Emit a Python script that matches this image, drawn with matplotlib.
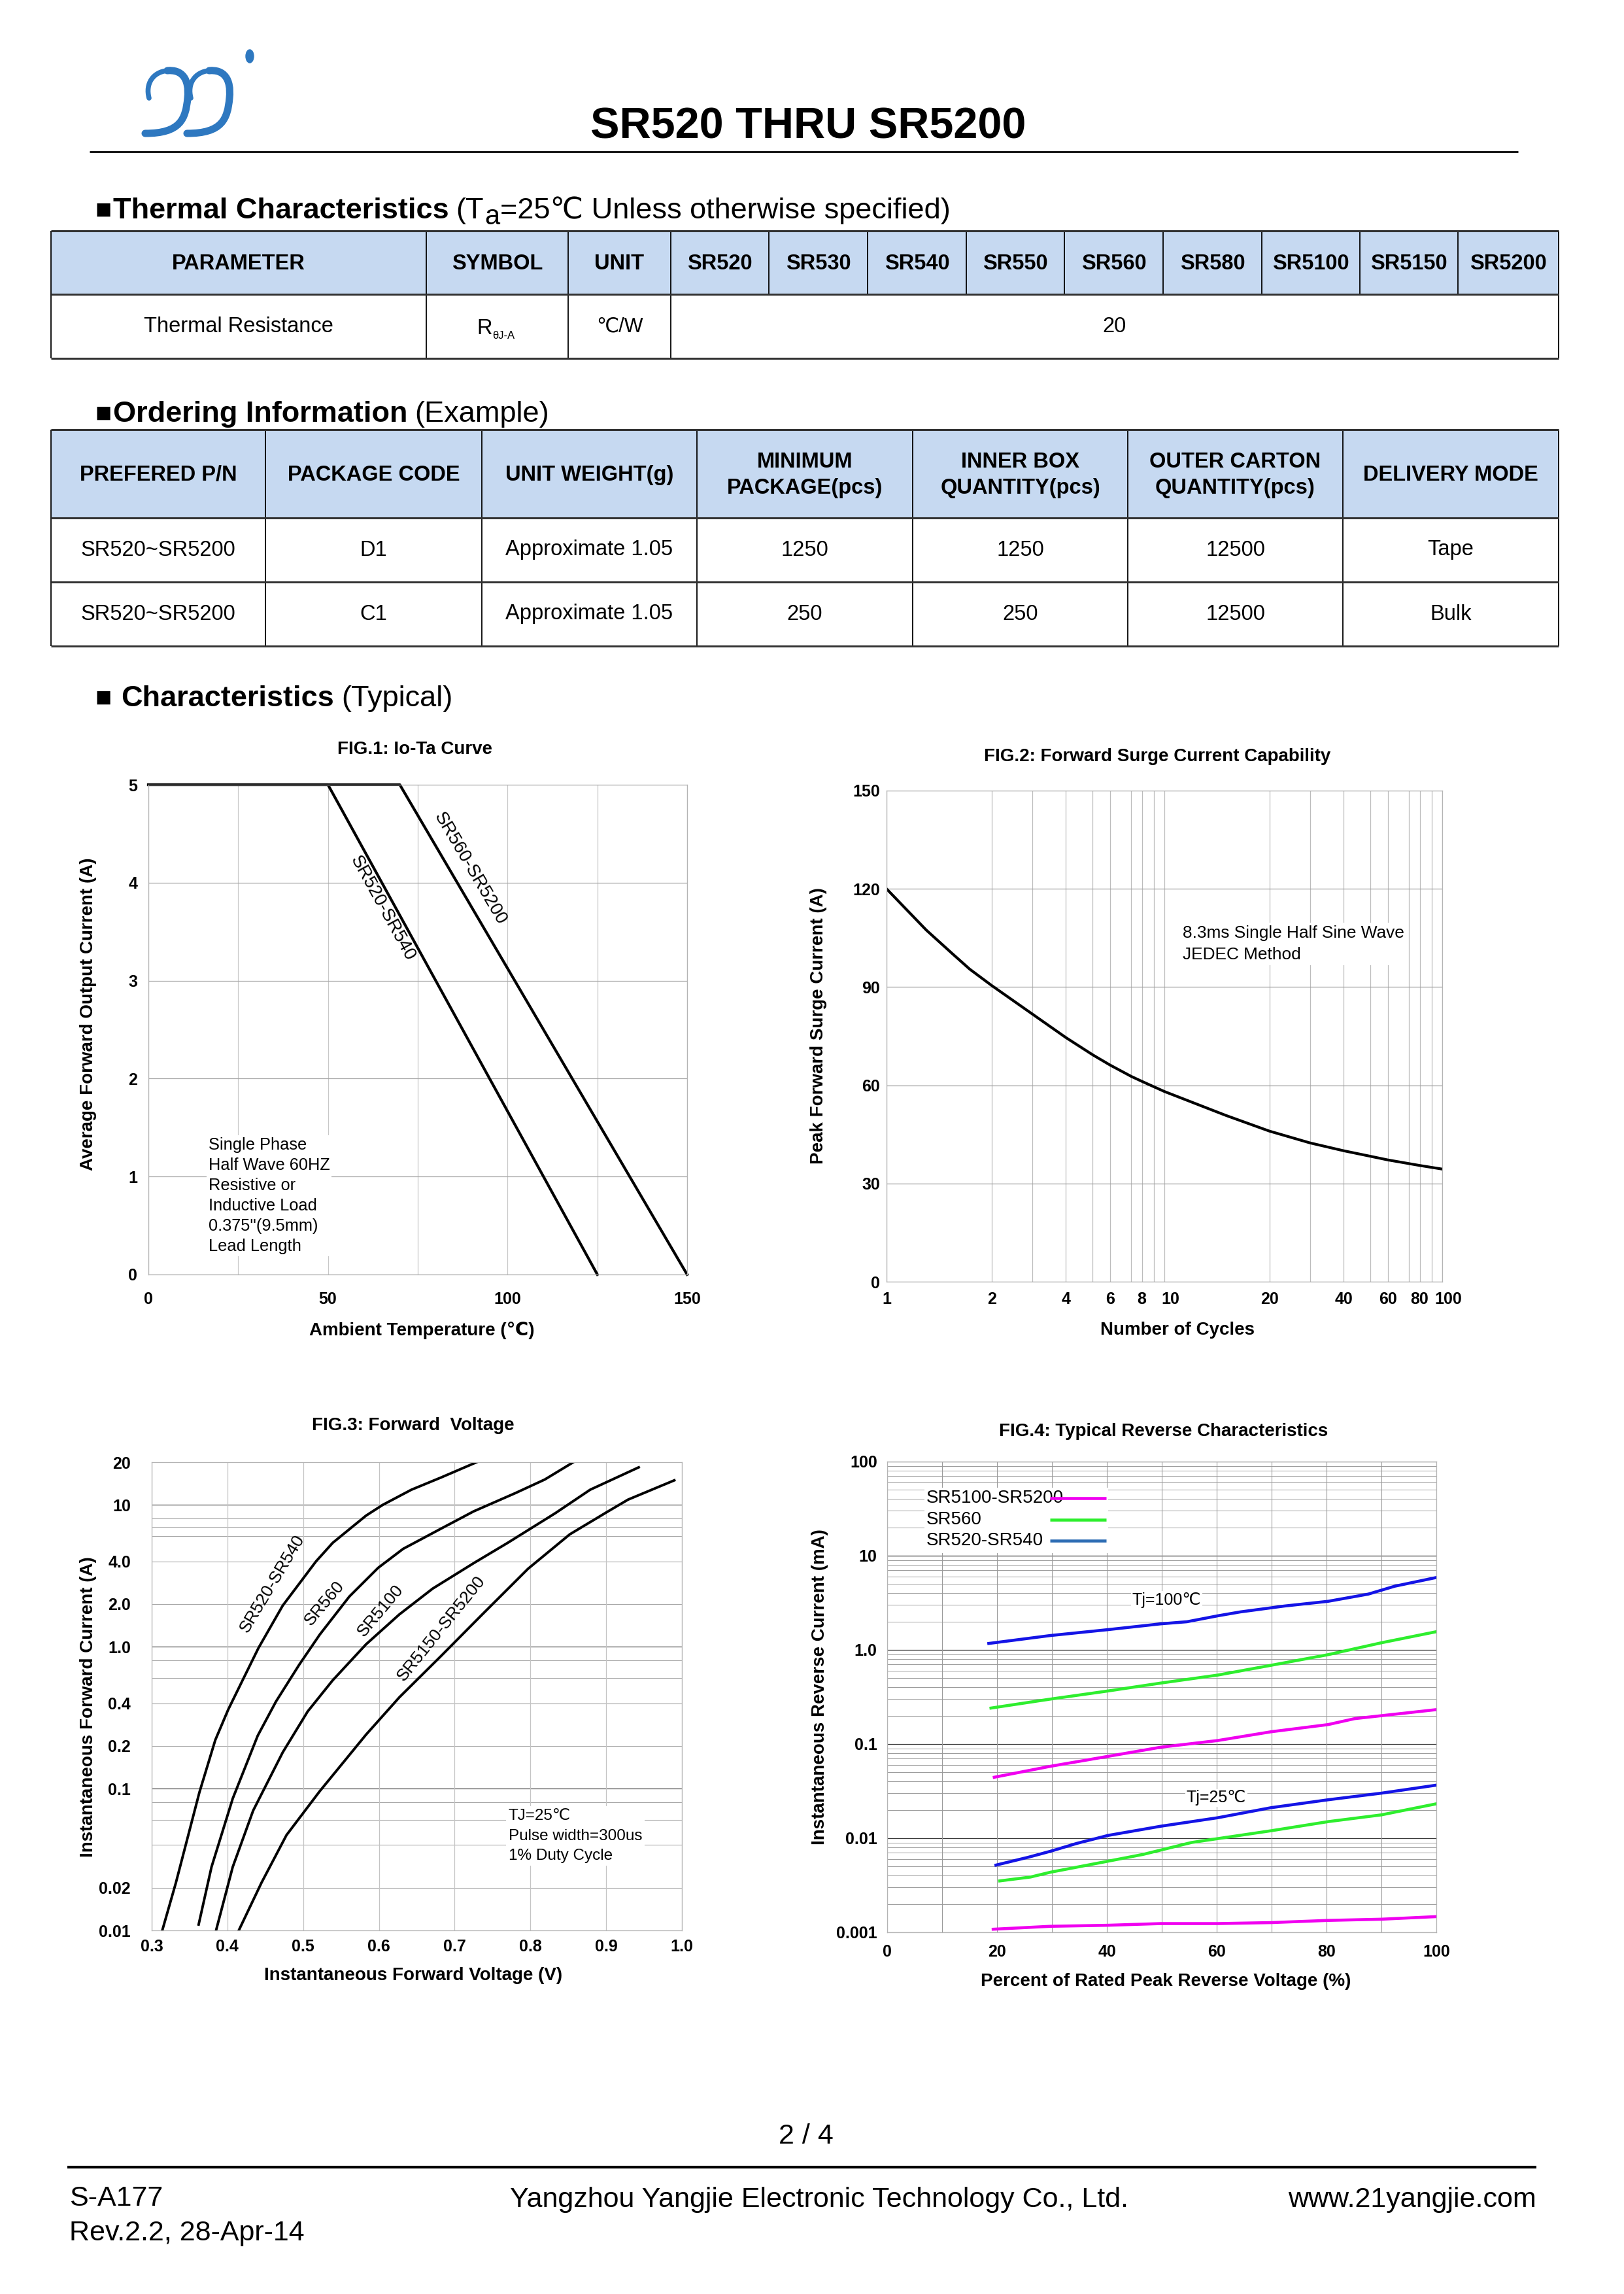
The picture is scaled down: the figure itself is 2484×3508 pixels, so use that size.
import numpy as np
import matplotlib
matplotlib.use("Agg")
import matplotlib.pyplot as plt
from matplotlib.patches import Rectangle, PathPatch, Ellipse
from matplotlib.path import Path
from matplotlib.transforms import ScaledTranslation

plt.rcParams['font.family'] = ['Liberation Sans', 'DejaVu Sans']

W, H = 2484, 3508

# ---------------- table data ----------------
thermal_cols = ["PARAMETER", "SYMBOL", "UNIT", "SR520", "SR530", "SR540", "SR550",
                "SR560", "SR580", "SR5100", "SR5150", "SR5200"]
thermal_param = "Thermal Resistance"
thermal_unit = "℃/W"
thermal_value = "20"

order_cols = ["PREFERED P/N", "PACKAGE CODE", "UNIT WEIGHT(g)", "MINIMUM\nPACKAGE(pcs)",
              "INNER BOX\nQUANTITY(pcs)", "OUTER CARTON\nQUANTITY(pcs)", "DELIVERY MODE"]
order_row1 = ["SR520~SR5200", "D1", "Approximate 1.05", "1250", "1250", "12500", "Tape"]
order_row2 = ["SR520~SR5200", "C1", "Approximate 1.05", "250", "250", "12500", "Bulk"]

# ---------------- FIG.1 Io-Ta ----------------
ta_low = [0, 50, 125]
io_low = [5, 5, 0]
ta_high = [0, 70, 150]
io_high = [5, 5, 0]

# ---------------- FIG.2 surge ----------------
cycles = [1, 1.3, 1.54, 1.73, 2, 3, 4, 5, 6, 7, 8, 10, 15, 20, 30, 40, 50, 60, 80, 100]
surge = [120, 107.4, 100.3, 95.5, 90.5, 81.8, 74.6, 69.3, 66.2, 62.7, 61.2, 58.1, 50.8,
         46.0, 42.4, 40, 38.3, 37.2, 35.5, 34.4]
cycle_ticks = [1, 2, 4, 6, 8, 10, 20, 40, 60, 80, 100]

# ---------------- FIG.3 forward voltage ----------------
vf_520 = [0.314, 0.332, 0.363, 0.384, 0.401, 0.420, 0.441, 0.473, 0.517, 0.539, 0.583,
          0.605, 0.643, 0.682, 0.729]
if_520 = [0.01, 0.0217, 0.094, 0.22, 0.36, 0.58, 0.98, 1.95, 4.0, 5.4, 8.4, 10.0,
          12.8, 15.6, 20]
vf_560 = [0.362, 0.379, 0.407, 0.440, 0.464, 0.495, 0.522, 0.561, 0.599, 0.632, 0.682,
          0.725, 0.780, 0.819, 0.856]
if_560 = [0.011, 0.028, 0.085, 0.236, 0.41, 0.75, 1.22, 2.26, 3.6, 4.9, 6.8, 9.0,
          12.1, 15.1, 19.9]
vf_5100 = [0.385, 0.407, 0.434, 0.473, 0.506, 0.539, 0.583, 0.627, 0.671, 0.726, 0.770,
           0.802, 0.833, 0.879, 0.943]
if_5100 = [0.01, 0.028, 0.07, 0.18, 0.35, 0.58, 1.04, 1.69, 2.57, 3.91, 5.4, 6.9,
           8.75, 12.8, 18.4]
vf_5150 = [0.415, 0.445, 0.478, 0.522, 0.583, 0.627, 0.682, 0.736, 0.797, 0.852, 0.901,
           0.929, 0.990]
if_5150 = [0.01, 0.0217, 0.047, 0.096, 0.24, 0.44, 0.86, 1.68, 3.55, 6.2, 8.9, 10.9, 14.9]
fig3_yticks = [0.01, 0.02, 0.1, 0.2, 0.4, 1, 2, 4, 10, 20]
fig3_ylabels = ["0.01", "0.02", "0.1", "0.2", "0.4", "1.0", "2.0", "4.0", "10", "20"]

# ---------------- FIG.4 reverse ----------------
pct_b100 = [18.5, 29.7, 40.2, 49.8, 54.6, 60.2, 64.3, 72.3, 80.3, 87.6, 92.4, 100]
ir_b100 = [1.17, 1.42, 1.64, 1.89, 1.99, 2.30, 2.53, 2.92, 3.28, 3.91, 4.74, 5.87]
pct_g100 = [18.9, 29.7, 40.2, 49.8, 60.2, 69.9, 80.3, 90.0, 100]
ir_g100 = [0.241, 0.30, 0.366, 0.444, 0.54, 0.686, 0.89, 1.19, 1.56]
pct_m100 = [19.5, 29.7, 40.2, 49.8, 60.2, 69.9, 80.3, 85.1, 100]
ir_m100 = [0.0444, 0.058, 0.074, 0.0925, 0.109, 0.135, 0.161, 0.186, 0.232]
pct_b25 = [19.8, 25.7, 29.7, 34.5, 40.2, 49.8, 60.2, 69.9, 80.3, 90.0, 100]
ir_b25 = [0.00518, 0.00628, 0.00726, 0.0088, 0.0107, 0.0134, 0.0165, 0.0211, 0.0256,
          0.0301, 0.0366]
pct_g25 = [20.5, 26.1, 29.7, 40.2, 46.6, 55.4, 60.2, 69.9, 80.3, 90.0, 100]
ir_g25 = [0.00352, 0.00387, 0.00435, 0.0057, 0.00673, 0.009, 0.0099, 0.0120, 0.015,
          0.0177, 0.0232]
pct_m25 = [19.3, 29.7, 40.2, 49.8, 60.2, 69.9, 80.3, 90.0, 100]
ir_m25 = [0.00108, 0.00116, 0.00119, 0.00124, 0.00124, 0.00127, 0.00134, 0.00138, 0.00147]
fig4_yticks = [0.001, 0.01, 0.1, 1, 10, 100]
fig4_ylabels = ["0.001", "0.01", "0.1", "1.0", "10", "100"]
legend_labels = ["SR5100-SR5200", "SR560", "SR520-SR540"]

HEAD_BLUE = '#C6D9F1'
MAGENTA = '#F000F0'
GREEN = '#2EEE2E'
BLUE = '#1414E6'
LEG_BLUE = '#2E6DB4'
LOGO_BLUE = '#2E78C0'

fig = plt.figure(figsize=(W / 100, H / 100), dpi=100)
pg = fig.add_axes([0, 0, 1, 1])
pg.set_xlim(0, W)
pg.set_ylim(H, 0)
pg.axis('off')
renderer = fig.canvas.get_renderer()


def put_runs(x, y, parts):
    # parts: (text, size, weight, dy, gap)
    for s, size, weight, dy, gap in parts:
        x += gap
        t = pg.text(x, y + dy, s, fontsize=size, fontweight=weight, ha='left', va='baseline')
        x += t.get_window_extent(renderer).width
    return x


def hline(y, x0, x1, lw=2.2, c='#333333'):
    pg.plot([x0, x1], [y, y], color=c, lw=lw, solid_capstyle='butt')


def vline(x, y0, y1, lw=1.3, c='black'):
    pg.plot([x, x], [y0, y1], color=c, lw=lw, solid_capstyle='butt')


# ---------------- header ----------------
def glyph(dx):
    # stylised company logo stroke
    arm = [(228 + dx, 150), (222 + dx, 128), (234 + dx, 110), (256 + dx, 108)]
    stem = [(256 + dx, 108), (278 + dx, 106), (290 + dx, 120), (287 + dx, 150),
            (284 + dx, 182), (276 + dx, 204), (222 + dx, 204)]
    pg.add_patch(PathPatch(Path(arm, [Path.MOVETO] + [Path.CURVE4] * 3), fc='none',
                           ec=LOGO_BLUE, lw=5.5, capstyle='round'))
    pg.add_patch(PathPatch(Path(stem, [Path.MOVETO] + [Path.CURVE4] * 6), fc='none',
                           ec=LOGO_BLUE, lw=8, capstyle='round'))


glyph(0)
glyph(64)
pg.add_patch(Ellipse((382, 86), 12, 20, color=LOGO_BLUE))

pg.text(1236, 212, "SR520 THRU SR5200", fontsize=48, fontweight='bold',
        ha='center', va='baseline')
hline(232, 137, 2322, lw=2.2, c='#1a1a1a')

# ---------------- thermal table ----------------
put_runs(146, 334, [("■", 30, 'normal', 0, 0),
                    ("Thermal Characteristics", 32.5, 'bold', 0, 2),
                    ("(T", 32.5, 'normal', 0, 11),
                    ("a", 30, 'normal', 9, 1),
                    ("=25℃ Unless otherwise specified)", 32.5, 'normal', 0, 1)])

t_edges = [78, 652, 869, 1026, 1176, 1327, 1478, 1628, 1779, 1930, 2080, 2230, 2384]
t_y = [353, 450, 548]
pg.add_patch(Rectangle((t_edges[0], t_y[0]), t_edges[-1] - t_edges[0], t_y[1] - t_y[0],
                       fc=HEAD_BLUE, ec='none'))
for i, name in enumerate(thermal_cols):
    pg.text((t_edges[i] + t_edges[i + 1]) / 2, (t_y[0] + t_y[1]) / 2 + 2, name,
            fontsize=23.5, fontweight='bold', ha='center', va='center')
for x in t_edges:
    vline(x, t_y[0], t_y[1])
for x in [t_edges[0], t_edges[1], t_edges[2], t_edges[3], t_edges[-1]]:
    vline(x, t_y[1], t_y[2])
for y in t_y:
    hline(y, t_edges[0], t_edges[-1])
body_y = (t_y[1] + t_y[2]) / 2
pg.text((t_edges[0] + t_edges[1]) / 2, body_y, thermal_param, fontsize=23.5,
        ha='center', va='center')
put_runs(729, body_y + 12, [("R", 23.5, 'normal', 0, 0), ("θJ-A", 12, 'normal', 7, 1)])
pg.text((t_edges[2] + t_edges[3]) / 2, body_y, thermal_unit, fontsize=22,
        ha='center', va='center')
pg.text((t_edges[3] + t_edges[-1]) / 2, body_y, thermal_value, fontsize=23.5,
        ha='center', va='center')

# ---------------- ordering table ----------------
put_runs(146, 645, [("■", 30, 'normal', 0, 0),
                    ("Ordering Information", 32.5, 'bold', 0, 2),
                    ("(Example)", 32.5, 'normal', 0, 11)])
o_edges = [78, 406, 737, 1066, 1396, 1725, 2054, 2384]
o_y = [657, 792, 890, 988]
pg.add_patch(Rectangle((o_edges[0], o_y[0]), o_edges[-1] - o_edges[0], o_y[1] - o_y[0],
                       fc=HEAD_BLUE, ec='none'))
for i, name in enumerate(order_cols):
    pg.text((o_edges[i] + o_edges[i + 1]) / 2, (o_y[0] + o_y[1]) / 2 + 2, name,
            fontsize=23.5, fontweight='bold', ha='center', va='center',
            multialignment='center', linespacing=1.35)
for r, row in enumerate([order_row1, order_row2]):
    cy = (o_y[r + 1] + o_y[r + 2]) / 2
    for i, val in enumerate(row):
        pg.text((o_edges[i] + o_edges[i + 1]) / 2, cy, val, fontsize=23.5,
                ha='center', va='center')
for x in o_edges:
    vline(x, o_y[0], o_y[-1])
for y in o_y:
    hline(y, o_edges[0], o_edges[-1])

put_runs(146, 1080, [("■", 30, 'normal', 0, 0),
                     ("Characteristics", 32.5, 'bold', 0, 14),
                     ("(Typical)", 32.5, 'normal', 0, 11)])


# ---------------- helpers for charts ----------------
def box_axes(x0, y0, x1, y1):
    return fig.add_axes([x0 / W, 1 - y1 / H, (x1 - x0) / W, (y1 - y0) / H])


def style_axes(ax, xpad, ypad):
    for s in ax.spines.values():
        s.set_color('#b4b4b4')
        s.set_linewidth(0.9)
    ax.tick_params(which='both', length=0, labelsize=18)
    ax.tick_params(axis='x', pad=xpad)
    ax.tick_params(axis='y', pad=ypad)
    for lab in ax.get_xticklabels() + ax.get_yticklabels():
        lab.set_fontweight('bold')


def chart_text(x, y, s, rot=0):
    pg.text(x, y, s, fontsize=20, fontweight='bold', ha='center', va='center',
            rotation=rot)


# ---------------- FIG.1 ----------------
ax1 = box_axes(227, 1200, 1051, 1949)
ax1.set_xlim(0, 150)
ax1.set_ylim(0, 5)
ax1.set_xticks([0, 50, 100, 150])
ax1.set_xticks([25, 75, 125], minor=True)
ax1.set_yticks([0, 1, 2, 3, 4, 5])
ax1.grid(axis='x', which='both', color='#c8c8c8', lw=0.9)
ax1.grid(axis='y', which='major', color='#a8a8a8', lw=0.9)
ax1.plot(ta_low, io_low, color='black', lw=3, clip_on=False)
ax1.plot(ta_high, io_high, color='black', lw=3, clip_on=False)
ang_low = np.degrees(np.arctan2(io_low[2] - io_low[1], ta_low[2] - ta_low[1]))
ang_high = np.degrees(np.arctan2(io_high[2] - io_high[1], ta_high[2] - ta_high[1]))
ax1.text(65.1, 3.74, "SR520-SR540", rotation=ang_low, transform_rotates_text=True,
         rotation_mode='anchor', ha='center', va='center', fontsize=20)
ax1.text(89.5, 4.14, "SR560-SR5200", rotation=ang_high, transform_rotates_text=True,
         rotation_mode='anchor', ha='center', va='center', fontsize=20)
ax1.text(16.7, 1.40, "Single Phase\nHalf Wave 60HZ\nResistive or\nInductive Load\n"
         "0.375''(9.5mm)\nLead Length", ha='left', va='top', fontsize=18.3,
         linespacing=1.37, bbox=dict(fc='white', ec='none', pad=2))
style_axes(ax1, 19, 12)
pg.text(635, 1146, "FIG.1: Io-Ta Curve", fontsize=20, fontweight='bold',
        ha='center', va='center')
chart_text(645, 2034, "Ambient Temperature (℃)")
chart_text(135, 1551, "Average Forward Output Current (A)", 90)

# ---------------- FIG.2 ----------------
# the original's cycle axis is a hand-drawn, slightly stretched log scale
dec_log = np.log10([1, 2, 3, 4, 5, 6, 7, 8, 9, 10])
dec_pos = np.array([0, 0.378, 0.524, 0.645, 0.742, 0.804, 0.881, 0.919, 0.962, 1.0])


def cyc_fwd(n):
    l = np.log10(np.clip(np.asarray(n, float), 1e-9, None))
    k = np.floor(l)
    return k + np.interp(l - k, dec_log, dec_pos)


def cyc_inv(p):
    p = np.asarray(p, float)
    k = np.floor(p)
    return 10 ** (k + np.interp(p - k, dec_pos, dec_log))


ax2 = box_axes(1356, 1209, 2206, 1960)
ax2.set_xscale('function', functions=(cyc_fwd, cyc_inv))
ax2.set_xlim(1, 100)
ax2.set_ylim(0, 150)
ax2.set_xticks(cycle_ticks)
ax2.set_xticklabels([str(c) for c in cycle_ticks])
ax2.set_xticks(list(range(1, 10)) + list(range(10, 101, 10)), minor=True)
ax2.set_yticks([0, 30, 60, 90, 120, 150])
ax2.grid(axis='x', which='both', color='#bcbcbc', lw=0.9)
ax2.grid(axis='y', which='major', color='#a0a0a0', lw=0.9)
ax2.plot(cycles, surge, color='black', lw=3, solid_joinstyle='round')
ax2.text(0.533, 0.726, "8.3ms Single Half Sine Wave\nJEDEC Method",
         transform=ax2.transAxes, ha='left', va='top', fontsize=18.9, linespacing=1.5,
         bbox=dict(fc='white', ec='none', pad=3))
style_axes(ax2, 11, 7)
for lab in ax2.get_xticklabels():
    if lab.get_text() in ("10", "100"):
        lab.set_transform(lab.get_transform() +
                          ScaledTranslation(9 / 100, 0, fig.dpi_scale_trans))
pg.text(1770, 1157, "FIG.2: Forward Surge Current Capability", fontsize=20,
        fontweight='bold', ha='center', va='center')
chart_text(1801, 2034, "Number of Cycles")
chart_text(1252, 1569, "Peak Forward Surge Current (A)", 90)

# ---------------- FIG.3 ----------------
ax3 = box_axes(232, 2236, 1043, 2952)
ax3.set_yscale('log')
ax3.set_xlim(0.3, 1.0)
ax3.set_ylim(0.01, 20)
ax3.set_xticks(np.round(np.arange(0.3, 1.01, 0.1), 1))
ax3.set_xticklabels(["%.1f" % v for v in np.arange(0.3, 1.01, 0.1)])
ax3.set_yticks(fig3_yticks)
ax3.set_yticklabels(fig3_ylabels)
ax3.yaxis.set_minor_locator(matplotlib.ticker.NullLocator())
ax3.grid(axis='x', color='#c4c4c4', lw=0.9)
for v in [0.02, 0.04, 0.06, 0.08, 0.2, 0.4, 0.6, 0.8, 2, 4, 6, 7, 8]:
    ax3.axhline(v, color='#a8a8a8', lw=0.8, zorder=1)
for v in [0.1, 1, 10]:
    ax3.axhline(v, color='#555555', lw=0.9, zorder=1)
for vx, iy in [(vf_520, if_520), (vf_560, if_560), (vf_5100, if_5100), (vf_5150, if_5150)]:
    ax3.plot(vx, iy, color='black', lw=2.8, solid_joinstyle='round')
ax3.text(0.459, 2.78, "SR520-SR540", rotation=59, rotation_mode='anchor',
         ha='center', va='center', fontsize=19)
ax3.text(0.528, 2.02, "SR560", rotation=50, rotation_mode='anchor',
         ha='center', va='center', fontsize=19)
ax3.text(0.602, 1.80, "SR5100", rotation=50, rotation_mode='anchor',
         ha='center', va='center', fontsize=19)
ax3.text(0.682, 1.35, "SR5150-SR5200", rotation=51, rotation_mode='anchor',
         ha='center', va='center', fontsize=19)
ax3.text(0.771, 0.072, "TJ=25℃\nPulse width=300us\n1% Duty Cycle", ha='left', va='top',
         fontsize=17.5, linespacing=1.5, bbox=dict(fc='white', ec='none', pad=3))
style_axes(ax3, 9, 23)
pg.text(632, 2180, "FIG.3: Forward  Voltage", fontsize=20, fontweight='bold',
        ha='center', va='center')
chart_text(632, 3021, "Instantaneous Forward Voltage (V)")
chart_text(135, 2610, "Instantaneous Forward Current (A)", 90)

# ---------------- FIG.4 ----------------
ax4 = box_axes(1357, 2235, 2197, 2955)
ax4.set_yscale('log')
ax4.set_xlim(0, 100)
ax4.set_ylim(0.001, 100)
ax4.set_xticks([0, 20, 40, 60, 80, 100])
ax4.set_xticks(list(range(10, 100, 20)), minor=True)
ax4.set_yticks(fig4_yticks)
ax4.set_yticklabels(fig4_ylabels)
ax4.yaxis.set_minor_locator(matplotlib.ticker.NullLocator())
ax4.grid(axis='x', which='both', color='#9a9a9a', lw=0.8)
for dec in [0.001, 0.01, 0.1, 1, 10]:
    for m in range(2, 10):
        ax4.axhline(dec * m, color='#9a9a9a', lw=0.7, zorder=1)
for v in fig4_yticks:
    ax4.axhline(v, color='#3a3a3a', lw=0.9, zorder=1)
for px, iy, c in [(pct_b100, ir_b100, BLUE), (pct_g100, ir_g100, GREEN),
                  (pct_m100, ir_m100, MAGENTA), (pct_b25, ir_b25, BLUE),
                  (pct_g25, ir_g25, GREEN), (pct_m25, ir_m25, MAGENTA)]:
    ax4.plot(px, iy, color=c, lw=3.3, zorder=3)
ax4.text(44.6, 3.38, "Tj=100℃", ha='left', va='center', fontsize=18,
         bbox=dict(fc='white', ec='none', pad=1), zorder=4)
ax4.text(54.5, 0.0268, "Tj=25℃", ha='left', va='center', fontsize=18,
         bbox=dict(fc='white', ec='none', pad=1), zorder=4)
# key: labels left-aligned, coloured strokes after them
ax4.add_patch(Rectangle((0.068, 0.805), 0.334, 0.14, transform=ax4.transAxes,
                        fc='white', ec='none', zorder=2.5))
for lbl, c, ky in zip(legend_labels, [MAGENTA, GREEN, LEG_BLUE], [0.9226, 0.8764, 0.832]):
    ax4.text(0.071, ky, lbl, transform=ax4.transAxes, ha='left', va='center',
             fontsize=20, zorder=4)
    ax4.plot([0.297, 0.399], [ky, ky], transform=ax4.transAxes, color=c, lw=3.3,
             zorder=4, solid_capstyle='butt')
style_axes(ax4, 13, 11)
pg.text(1780, 2189, "FIG.4: Typical Reverse Characteristics", fontsize=20,
        fontweight='bold', ha='center', va='center')
chart_text(1783, 3030, "Percent of Rated Peak Reverse Voltage (%)")
chart_text(1254, 2580, "Instantaneous Reverse Current (mA)", 90)

# ---------------- footer ----------------
pg.text(1233, 3267, "2 / 4", fontsize=31, ha='center', va='center')
hline(3314, 103, 2350, lw=3, c='black')
pg.text(106, 3362, "S-A177", fontsize=31, ha='left', va='center')
pg.text(106, 3415, "Rev.2.2, 28-Apr-14", fontsize=31, ha='left', va='center')
pg.text(1253, 3364, "Yangzhou Yangjie Electronic Technology Co., Ltd.", fontsize=31,
        ha='center', va='center')
pg.text(2350, 3364, "www.21yangjie.com", fontsize=31, ha='right', va='center')

fig.savefig("out.png", dpi=100)
